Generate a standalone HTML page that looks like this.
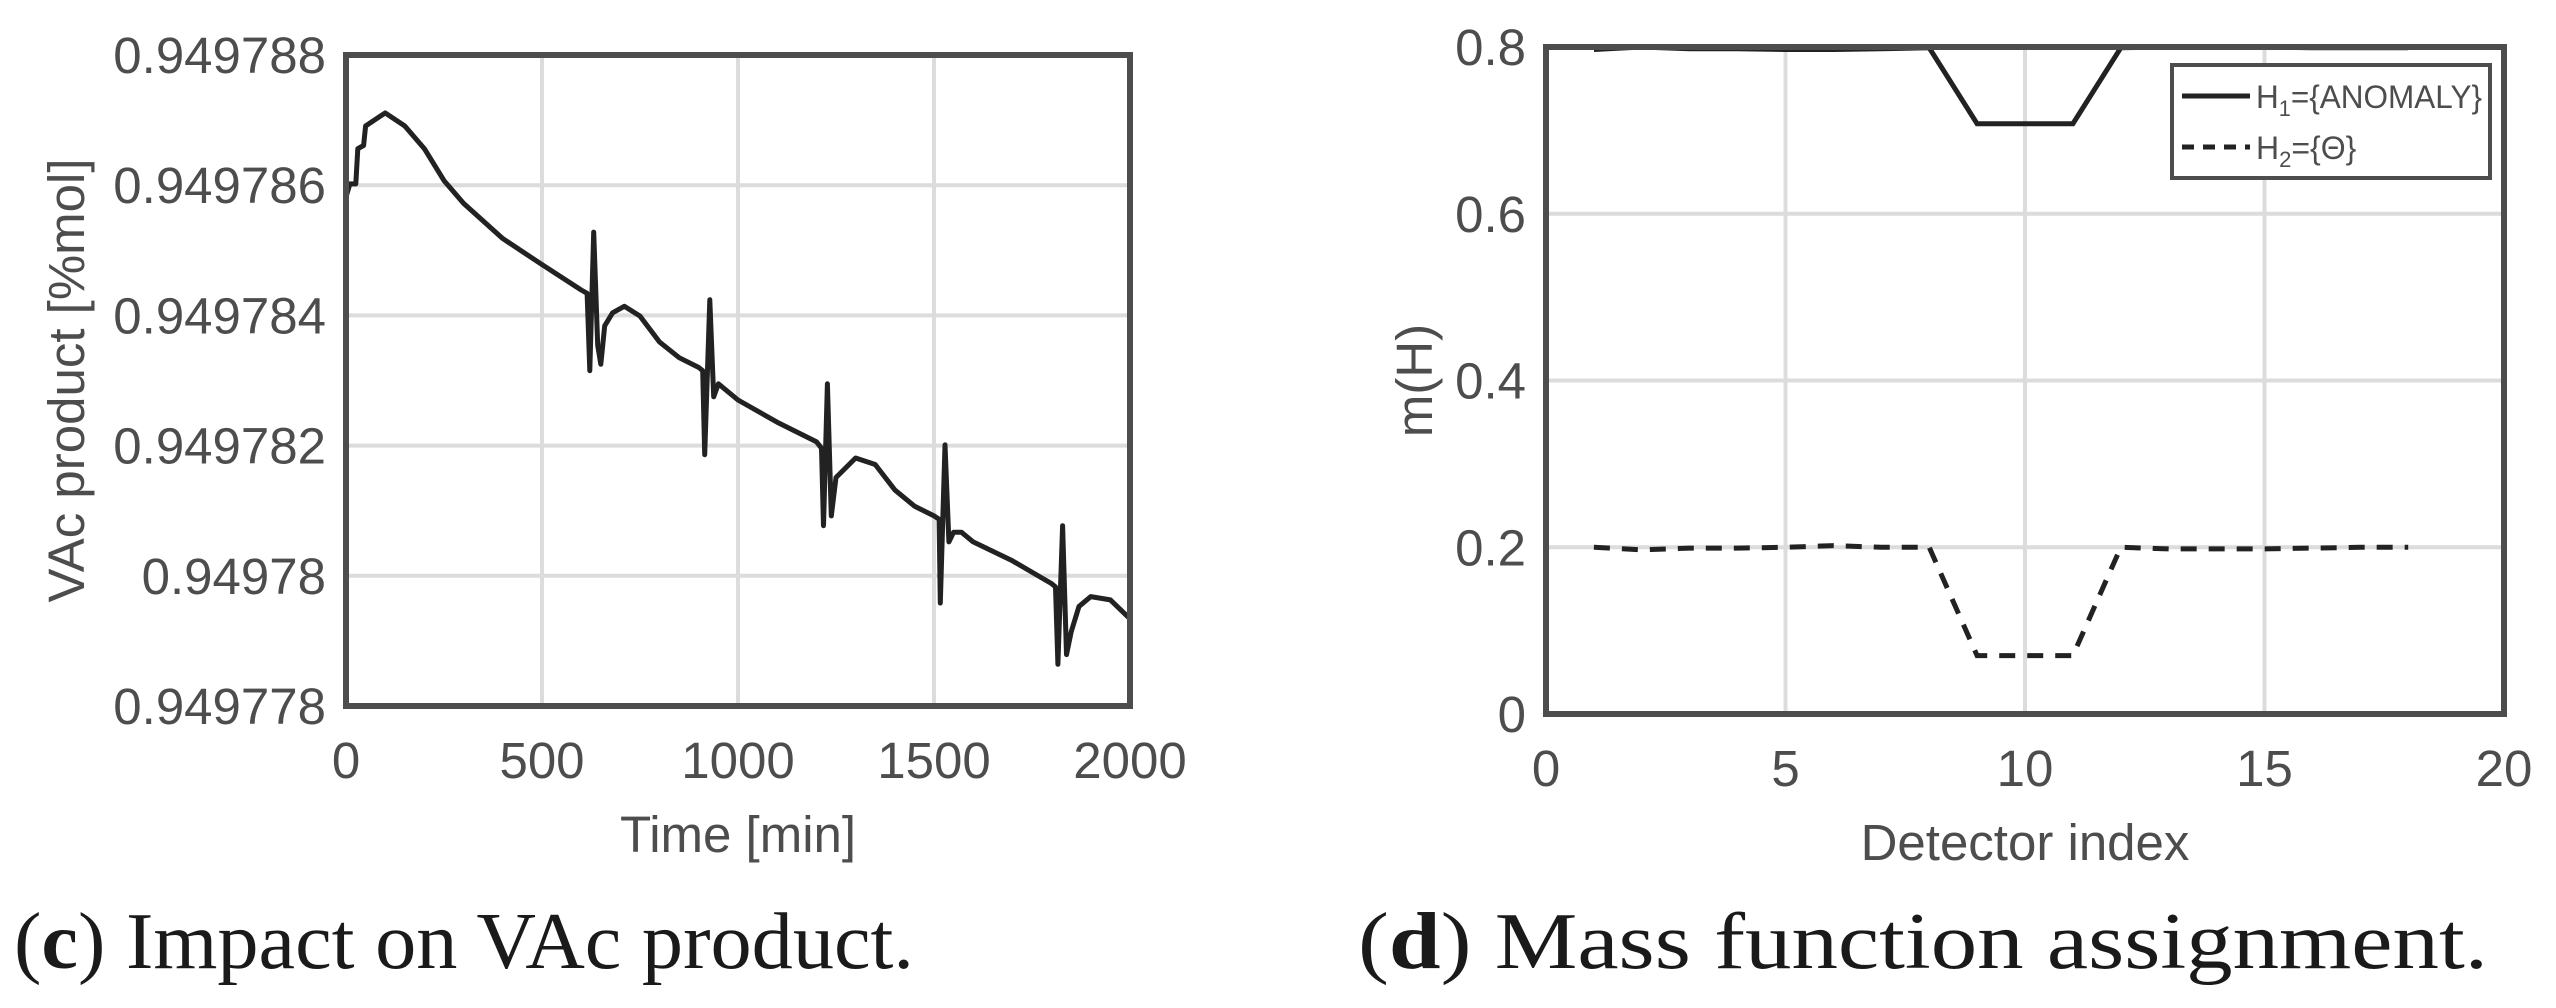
<!DOCTYPE html>
<html><head><meta charset="utf-8"><style>
html,body{margin:0;padding:0;background:#fff;}
svg{display:block;}
text{font-family:"Liberation Sans",sans-serif;fill:#4d4d4d;}
.cap{font-family:"Liberation Serif",serif;fill:#1a1a1a;font-size:80px;}
</style></head><body>
<svg id="fig" width="2556" height="1008" viewBox="0 0 2556 1008" xmlns="http://www.w3.org/2000/svg">
<text class="cap" x="14" y="968" textLength="900" lengthAdjust="spacingAndGlyphs">(<tspan font-weight="bold">c</tspan>) Impact on VAc product.</text>
<text class="cap" x="1358" y="968" textLength="1130" lengthAdjust="spacingAndGlyphs">(<tspan font-weight="bold">d</tspan>) Mass function assignment.</text>
</svg>
<script>
// ---- Chart (c) data ----
const timeVals = [0,10,25,30,45,50,100,150,200,250,300,400,500,600,615,622,632,642,650,660,680,710,750,800,850,900,910,915,928,938,950,1000,1100,1200,1213,1218,1228,1238,1250,1300,1350,1400,1450,1500,1513,1516,1528,1538,1550,1570,1600,1700,1800,1810,1816,1828,1838,1850,1870,1900,1950,2000];
const vacMicro = [7.82,8.02,8.02,8.56,8.61,8.91,9.11,8.91,8.56,8.07,7.72,7.18,6.78,6.39,6.34,5.15,7.28,5.54,5.25,5.84,6.04,6.14,5.99,5.59,5.35,5.20,5.15,3.86,6.24,4.75,4.95,4.70,4.36,4.06,3.96,2.77,4.95,2.92,3.51,3.81,3.71,3.32,3.07,2.92,2.87,1.58,4.01,2.52,2.67,2.67,2.52,2.23,1.88,1.83,0.64,2.77,0.79,1.14,1.53,1.68,1.63,1.34];
const vacBase = 0.949778;
const cXTicks = [0,500,1000,1500,2000];
const cYTicks = [0,2,4,6,8,10];
const cYTickLabels = ["0.949778","0.94978","0.949782","0.949784","0.949786","0.949788"];
// ---- Chart (d) data ----
const detIdx = [1,2,3,4,5,6,7,8,9,10,11,12,13,14,15,16,17,18];
const h1Vals = [0.797,0.8,0.798,0.798,0.797,0.797,0.798,0.799,0.708,0.708,0.708,0.799,0.8,0.8,0.8,0.799,0.799,0.799];
const h2Vals = [0.2,0.197,0.199,0.199,0.2,0.202,0.2,0.2,0.07,0.07,0.07,0.2,0.198,0.198,0.198,0.199,0.2,0.2];
const dXTicks = [0,5,10,15,20];
const dYTicks = [0,0.2,0.4,0.6,0.8];
const dYTickLabels = ["0","0.2","0.4","0.6","0.8"];

const NS="http://www.w3.org/2000/svg";
const svg=document.getElementById('fig');
function mk(tag,attrs,parent){const e=document.createElementNS(NS,tag);for(const k in attrs)e.setAttribute(k,attrs[k]);(parent||svg).appendChild(e);return e;}

function drawAxes(g,L,R,T,B,xs,ys,xTicks,xLabels,yTicks,yLabels,xTitle,yTitle,titleX,titleYx){
  xTicks.forEach((t,i)=>{
    const x=xs(t);
    const gl=mk('line',{x1:x,x2:x,y1:T,y2:B,stroke:'#dcdcdc','stroke-width':4},g);
    
    
    const tl=mk('text',{x:x,y:B+72,'font-size':51,'text-anchor':'middle'},g);
    tl.textContent=xLabels[i];
    
    
  });
  yTicks.forEach((t,i)=>{
    const y=ys(t);
    const gl=mk('line',{x1:L,x2:R,y1:y,y2:y,stroke:'#dcdcdc','stroke-width':4},g);
    
    
    const tl=mk('text',{x:L-20,y:y+18,'font-size':51,'text-anchor':'end'},g);
    tl.textContent=yLabels[i];
    
    
  });
  const xt=mk('text',{x:(L+R)/2,y:titleX,'font-size':51,'text-anchor':'middle'},g);
  xt.textContent=xTitle;
  
  
  const cy=(T+B)/2;
  const yt=mk('text',{x:titleYx,y:cy,'font-size':51,'text-anchor':'middle',transform:`rotate(-90 ${titleYx} ${cy})`},g);
  yt.textContent=yTitle;
  
  
}
function frame(g,L,R,T,B){
  const f=mk('rect',{x:L,y:T,width:R-L,height:B-T,fill:'none',stroke:'#4d4d4d','stroke-width':6},g);
  
  
}

// Chart c
(function(){
  const L=346,R=1130,T=55,B=706;
  const g=mk('g',{});
  
  
  const xs=v=>L+(v-0)/2000*(R-L);
  const ys=v=>B-(v-0)/10*(B-T);
  drawAxes(g,L,R,T,B,xs,ys,cXTicks,cXTicks.map(String),cYTicks,cYTickLabels,'Time [min]','VAc product [%mol]',852,84);
  const d=timeVals.map((t,i)=>(i?'L':'M')+xs(t).toFixed(1)+' '+ys(vacMicro[i]).toFixed(1)).join(' ');
  const p=mk('path',{d:d,fill:'none',stroke:'#222','stroke-width':5,'stroke-linejoin':'round'},g);
  
  
  frame(g,L,R,T,B);
})();

// Chart d
(function(){
  const L=1546,R=2504,T=47,B=714;
  const g=mk('g',{});
  
  
  const xs=v=>L+v/20*(R-L);
  const ys=v=>B-v/0.8*(B-T);
  drawAxes(g,L,R,T,B,xs,ys,dXTicks,dXTicks.map(String),dYTicks,dYTickLabels,'Detector index','m(H)',860,1432);
  const p1=mk('path',{d:detIdx.map((t,i)=>(i?'L':'M')+xs(t).toFixed(1)+' '+ys(h1Vals[i]).toFixed(1)).join(' '),fill:'none',stroke:'#222','stroke-width':5},g);
  
  
  const p2=mk('path',{d:detIdx.map((t,i)=>(i?'L':'M')+xs(t).toFixed(1)+' '+ys(h2Vals[i]).toFixed(1)).join(' '),fill:'none',stroke:'#222','stroke-width':5,'stroke-dasharray':'16 12'},g);
  
  
  frame(g,L,R,T,B);
  const lg=mk('g',{},g);
  
  
  mk('rect',{x:2172,y:65,width:318,height:113,fill:'#fff',stroke:'#4d4d4d','stroke-width':4},lg);
  const l1=mk('line',{x1:2182,x2:2250,y1:96,y2:96,stroke:'#222','stroke-width':5},lg);
  
  
  const t1=mk('text',{x:2256,y:108,'font-size':32,fill:'#222',textLength:226,lengthAdjust:'spacingAndGlyphs'},lg);
  t1.innerHTML='H<tspan font-size="22" dy="8">1</tspan><tspan dy="-8">={ANOMALY}</tspan>';
  
  
  const l2=mk('line',{x1:2182,x2:2250,y1:147,y2:147,stroke:'#222','stroke-width':5,'stroke-dasharray':'12 9'},lg);
  
  
  const t2=mk('text',{x:2256,y:159,'font-size':32,fill:'#222'},lg);
  t2.innerHTML='H<tspan font-size="22" dy="8">2</tspan><tspan dy="-8">={Θ}</tspan>';
  
  
})();
</script>
</body></html>
